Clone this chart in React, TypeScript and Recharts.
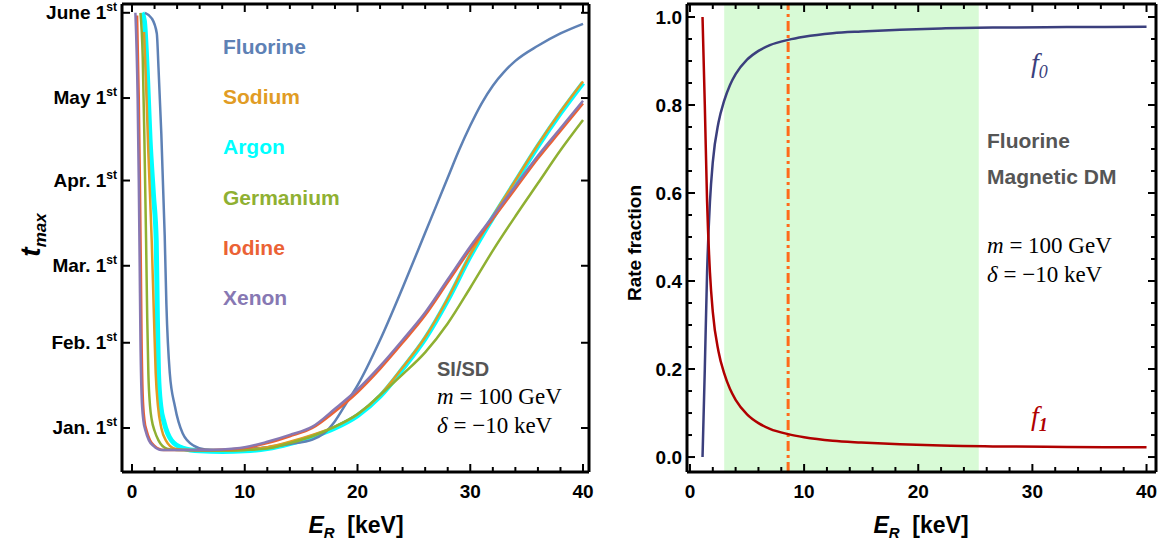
import React from 'react'
import { LineChart, Line, XAxis, YAxis, ReferenceArea, ReferenceLine } from 'recharts'

// left panel: x = E_R [keV], y = day of the maximum, counted from Jan. 1st
const fluorine: [number, number][] = [[1.15, 151], [1.75, 149], [2.2, 143.5], [2.35, 131], [2.6, 107], [2.9, 70], [3.05, 45], [3.35, 20], [3.8, 8], [4.5, -2], [5.5, -6.5], [6.5, -7.8], [8, -8], [10, -7.7], [12, -7], [14, -5.8], [16, -4.2], [17, -2], [18, 2.5], [19, 9], [20, 15.5], [22, 32], [24, 51], [26, 71], [28, 91], [29, 101], [30, 110], [31, 118], [32, 124.5], [33, 129.5], [34, 133.5], [36, 139], [38, 143.5], [40, 147]]
const sodium: [number, number][] = [[1.07, 144], [1.25, 125], [1.45, 100], [1.75, 68], [1.95, 40], [2.1, 20], [2.3, 8], [2.6, 0], [3.0, -4.5], [3.8, -7.5], [5, -8], [8, -8.2], [10, -8], [12, -7], [14, -5], [16, -2.5], [18, 0.5], [20, 5], [22, 12], [24, 22], [26, 33], [28, 47], [30, 63], [32, 77], [34, 90], [36, 103], [38, 115], [40, 126]]
const argon: [number, number][] = [[0.9, 151], [1.1, 148], [1.35, 130], [1.6, 105], [1.9, 85], [2.15, 68], [2.25, 40], [2.35, 20], [2.55, 8], [2.85, 2], [3.5, -4.5], [4.5, -7.3], [6, -8.3], [8, -8.5], [10, -8.3], [12, -7.5], [14, -5.7], [16, -3.2], [18, 0], [20, 4.5], [22, 11.5], [24, 21.5], [26, 32.5], [28, 46.5], [30, 62.5], [32, 76.5], [34, 89.5], [36, 102.5], [38, 114.5], [40, 125.5]]
const germanium: [number, number][] = [[0.75, 151], [0.95, 135], [1.1, 105], [1.25, 68], [1.35, 40], [1.45, 20], [1.6, 8], [1.75, 3], [2.0, -1], [2.35, -4.5], [3.1, -7.5], [4, -8], [8, -8.2], [10, -8], [12, -7.5], [14, -5.5], [16, -3], [18, 0.5], [20, 5], [22, 12], [24, 19.5], [26, 27.5], [28, 38], [30, 51], [32, 64.5], [34, 77], [36, 89], [38, 101], [40, 112]]
const iodine: [number, number][] = [[0.45, 150], [0.6, 120], [0.7, 90], [0.78, 60], [0.85, 32], [0.95, 12], [1.1, 3], [1.3, -1], [1.6, -4.5], [2.0, -6.5], [2.8, -8], [6, -8], [8, -7.9], [10, -7.3], [12, -5.5], [14, -3], [16, 0], [18, 6], [20, 13], [22, 21.5], [24, 31], [26, 41], [28, 53], [30, 65], [32, 76], [34, 87], [36, 98], [38, 108], [40, 118]]
const xenon: [number, number][] = [[0.3, 151], [0.5, 120], [0.6, 90], [0.68, 60], [0.75, 32], [0.85, 12], [1.0, 3], [1.2, -1], [1.5, -4.5], [1.9, -6.5], [2.6, -8], [6, -8], [8, -7.8], [10, -7], [12, -5], [14, -2.5], [16, 0.5], [18, 7], [20, 14], [22, 22.5], [24, 32], [26, 42], [28, 54], [30, 66], [32, 77], [34, 88], [36, 99], [38, 109], [40, 119]]

const targets = ['Fluorine', 'Sodium', 'Argon', 'Germanium', 'Iodine', 'Xenon']
const targetColors = ['#5E81B5', '#E19C24', '#00FFFF', '#8FB032', '#EB6235', '#8778B3']

const monthTicks = [0, 31, 59, 90, 120, 151]
const monthLabels = ['Jan.', 'Feb.', 'Mar.', 'Apr.', 'May', 'June']
const keVTicks = [0, 2, 4, 6, 8, 10, 12, 14, 16, 18, 20, 22, 24, 26, 28, 30, 32, 34, 36, 38, 40]

// right panel: rate fractions
const f0: [number, number][] = [[1.1, 0], [1.3, 0.2], [1.5, 0.42], [1.75, 0.58], [2, 0.67], [2.5, 0.76], [3, 0.81], [3.5, 0.845], [4, 0.87], [5, 0.903], [6, 0.923], [7, 0.936], [8.6, 0.948], [10, 0.955], [12.5, 0.963], [15, 0.967], [18.4, 0.971], [22, 0.974], [27, 0.976], [33, 0.977], [40, 0.978]]
const f1: [number, number][] = [[1.1, 1], [1.3, 0.8], [1.5, 0.58], [1.75, 0.42], [2, 0.33], [2.5, 0.24], [3, 0.19], [3.5, 0.155], [4, 0.13], [5, 0.097], [6, 0.077], [7, 0.064], [8.6, 0.052], [10, 0.045], [12.5, 0.037], [15, 0.033], [18.4, 0.029], [22, 0.026], [27, 0.024], [33, 0.023], [40, 0.022]]
const fracTicks = [0, 0.05, 0.1, 0.15, 0.2, 0.25, 0.3, 0.35, 0.4, 0.45, 0.5, 0.55, 0.6, 0.65, 0.7, 0.75, 0.8, 0.85, 0.9, 0.95, 1]
const shadedBand = [3, 25.3]
const thresholdE = 8.6

const SANS = '"Liberation Sans", Arial, Helvetica, sans-serif'
const SERIF = '"Liberation Serif", "Times New Roman", serif'
const frame = { stroke: '#000', strokeWidth: 3 }

const pts = (a: [number, number][]) => a.map(([x, y]) => ({ x, y }))
const majorKeV = (v: number) => v % 10 === 0
const majorFrac = (v: number) => Math.abs(v * 5 - Math.round(v * 5)) < 1e-6

// ticks point into the frame, like Mathematica
const bottomTick = (p: any) => {
  const { x, y, payload } = p
  const major = majorKeV(payload.value)
  return (
    <g>
      <line x1={x} x2={x} y1={y} y2={y - (major ? 8 : 5)} stroke="#000" strokeWidth={2} />
      {major && (
        <text x={x} y={y + 26} textAnchor="middle" fontFamily={SANS} fontWeight={700} fontSize={19} fill="#000">
          {payload.value}
        </text>
      )}
    </g>
  )
}
const topTick = (p: any) => {
  const { x, y, payload } = p
  const major = majorKeV(payload.value)
  return <line x1={x} x2={x} y1={y} y2={y + (major ? 8 : 5)} stroke="#000" strokeWidth={2} />
}
const monthTick = (p: any) => {
  const { x, y, payload } = p
  const i = monthTicks.indexOf(payload.value)
  return (
    <g>
      <line x1={x} x2={x + 8} y1={y} y2={y} stroke="#000" strokeWidth={2} />
      <text x={x - 5} y={y + 6} textAnchor="end" fontFamily={SANS} fontWeight={700} fontSize={19} fill="#000">
        {monthLabels[i]} 1<tspan dy={-8} fontSize={12}>st</tspan>
      </text>
    </g>
  )
}
const monthTickRight = (p: any) => {
  const { x, y } = p
  return <line x1={x} x2={x - 8} y1={y} y2={y} stroke="#000" strokeWidth={2} />
}
const fracTick = (p: any) => {
  const { x, y, payload } = p
  const major = majorFrac(payload.value)
  return (
    <g>
      <line x1={x} x2={x + (major ? 8 : 5)} y1={y} y2={y} stroke="#000" strokeWidth={2} />
      {major && (
        <text x={x - 5} y={y + 7} textAnchor="end" fontFamily={SANS} fontWeight={700} fontSize={19} fill="#000">
          {payload.value.toFixed(1)}
        </text>
      )}
    </g>
  )
}
const fracTickRight = (p: any) => {
  const { x, y, payload } = p
  const major = majorFrac(payload.value)
  return <line x1={x} x2={x - (major ? 8 : 5)} y1={y} y2={y} stroke="#000" strokeWidth={2} />
}

const leftSeries = [
  { data: argon, color: targetColors[2], width: 5 },
  { data: fluorine, color: targetColors[0], width: 2.5 },
  { data: sodium, color: targetColors[1], width: 2.5 },
  { data: germanium, color: targetColors[3], width: 2.5 },
  { data: iodine, color: targetColors[4], width: 2.5 },
  { data: xenon, color: targetColors[5], width: 2.5 },
]

function ParamText({ x, y }: { x: number; y: number }) {
  return (
    <g fontFamily={SERIF} fontSize={23} fill="#000" style={{ whiteSpace: 'pre' }}>
      <text x={x} y={y}>
        <tspan fontStyle="italic">m</tspan> = 100 GeV
      </text>
      <text x={x} y={y + 29}>
        <tspan fontStyle="italic">δ</tspan> = −10 keV
      </text>
    </g>
  )
}

function ERLabel({ cx }: { cx: number }) {
  return (
    <text x={cx} y={533} textAnchor="middle" fontFamily={SANS} fontWeight={700} fontSize={23} fill="#000" style={{ whiteSpace: 'pre' }}>
      <tspan fontStyle="italic">E</tspan>
      <tspan fontStyle="italic" fontSize={15} dy={5}>R</tspan>
      <tspan dy={-5}>{'  [keV]'}</tspan>
    </text>
  )
}

export default function App() {
  return (
    <div style={{ position: 'absolute', left: 0, top: 0, width: 1164, height: 541 }}>
      <div style={{ position: 'absolute', left: 0, top: 0 }}>
        <LineChart width={600} height={541} margin={{ top: 0, right: 7, bottom: 29, left: 62 }}>
          <XAxis xAxisId="b" type="number" dataKey="x" domain={[-0.887, 40.53]} ticks={keVTicks} interval={0} allowDataOverflow height={40} axisLine={frame} tickLine={false} tickSize={0} tickMargin={0} tick={bottomTick} />
          <XAxis xAxisId="t" orientation="top" type="number" dataKey="x" domain={[-0.887, 40.53]} ticks={keVTicks} interval={0} allowDataOverflow height={4} axisLine={frame} tickLine={false} tickSize={0} tickMargin={0} tick={topTick} />
          <YAxis yAxisId="l" type="number" domain={[-16, 154.2]} ticks={monthTicks} interval={0} allowDataOverflow width={60} axisLine={frame} tickLine={false} tickSize={0} tickMargin={0} tick={monthTick} />
          <YAxis yAxisId="r" orientation="right" type="number" domain={[-16, 154.2]} ticks={monthTicks} interval={0} allowDataOverflow width={4} axisLine={frame} tickLine={false} tickSize={0} tickMargin={0} tick={monthTickRight} />
          {leftSeries.map((s, i) => (
            <Line key={i} xAxisId="b" yAxisId="l" data={pts(s.data)} dataKey="y" type="monotone" stroke={s.color} strokeWidth={s.width} dot={false} isAnimationActive={false} />
          ))}
        </LineChart>
      </div>
      <div style={{ position: 'absolute', left: 600, top: 0 }}>
        <LineChart width={564} height={541} margin={{ top: 0, right: 4, bottom: 29, left: 27 }}>
          <ReferenceArea xAxisId="b" yAxisId="l" x1={shadedBand[0]} x2={shadedBand[1]} fill="#D8FAD6" fillOpacity={1} stroke="none" />
          <XAxis xAxisId="b" type="number" dataKey="x" domain={[-0.26, 40.83]} ticks={keVTicks} interval={0} allowDataOverflow height={40} axisLine={frame} tickLine={false} tickSize={0} tickMargin={0} tick={bottomTick} />
          <XAxis xAxisId="t" orientation="top" type="number" dataKey="x" domain={[-0.26, 40.83]} ticks={keVTicks} interval={0} allowDataOverflow height={4} axisLine={frame} tickLine={false} tickSize={0} tickMargin={0} tick={topTick} />
          <YAxis yAxisId="l" type="number" domain={[-0.034, 1.0295]} ticks={fracTicks} interval={0} allowDataOverflow width={60} axisLine={frame} tickLine={false} tickSize={0} tickMargin={0} tick={fracTick} />
          <YAxis yAxisId="r" orientation="right" type="number" domain={[-0.034, 1.0295]} ticks={fracTicks} interval={0} allowDataOverflow width={4} axisLine={frame} tickLine={false} tickSize={0} tickMargin={0} tick={fracTickRight} />
          <ReferenceLine xAxisId="b" yAxisId="l" x={thresholdE} stroke="#FF6A1A" strokeWidth={3} strokeDasharray="10 4 3 4" />
          <Line xAxisId="b" yAxisId="l" data={pts(f0)} dataKey="y" type="monotone" stroke="#3B3F7D" strokeWidth={2.5} dot={false} isAnimationActive={false} />
          <Line xAxisId="b" yAxisId="l" data={pts(f1)} dataKey="y" type="monotone" stroke="#B00000" strokeWidth={2.5} dot={false} isAnimationActive={false} />
        </LineChart>
      </div>
      <svg width={1164} height={541} style={{ position: 'absolute', left: 0, top: 0, pointerEvents: 'none' }}>
        {targets.map((t, i) => (
          <text key={t} x={223} y={54 + 50.2 * i} fontFamily={SANS} fontWeight={700} fontSize={21} fill={targetColors[i]}>
            {t}
          </text>
        ))}
        <text x={437} y={376} fontFamily={SANS} fontWeight={700} fontSize={20} fill="#555">SI/SD</text>
        <ParamText x={437} y={404} />
        <text x={987} y={148} fontFamily={SANS} fontWeight={700} fontSize={21} fill="#555">Fluorine</text>
        <text x={987} y={184} fontFamily={SANS} fontWeight={700} fontSize={21} fill="#555">Magnetic DM</text>
        <ParamText x={987} y={253} />
        <text x={1031} y={72} fontFamily={SERIF} fontStyle="italic" fontSize={28} fill="#3B3F7D">
          f<tspan fontSize={18} dy={6}>0</tspan>
        </text>
        <text x={1031} y={425} fontFamily={SERIF} fontStyle="italic" fontSize={28} fill="#B00000">
          f<tspan fontSize={18} dy={6} fontWeight={700}>1</tspan>
        </text>
        <ERLabel cx={356} />
        <ERLabel cx={921} />
        <text transform="translate(40,235) rotate(-90)" textAnchor="middle" fontFamily={SANS} fontWeight={700} fontStyle="italic" fontSize={28} fill="#000">
          t<tspan fontSize={17} dy={6}>max</tspan>
        </text>
        <text transform="translate(641,243) rotate(-90)" textAnchor="middle" fontFamily={SANS} fontWeight={700} fontSize={19} fill="#000">
          Rate fraction
        </text>
      </svg>
    </div>
  )
}
